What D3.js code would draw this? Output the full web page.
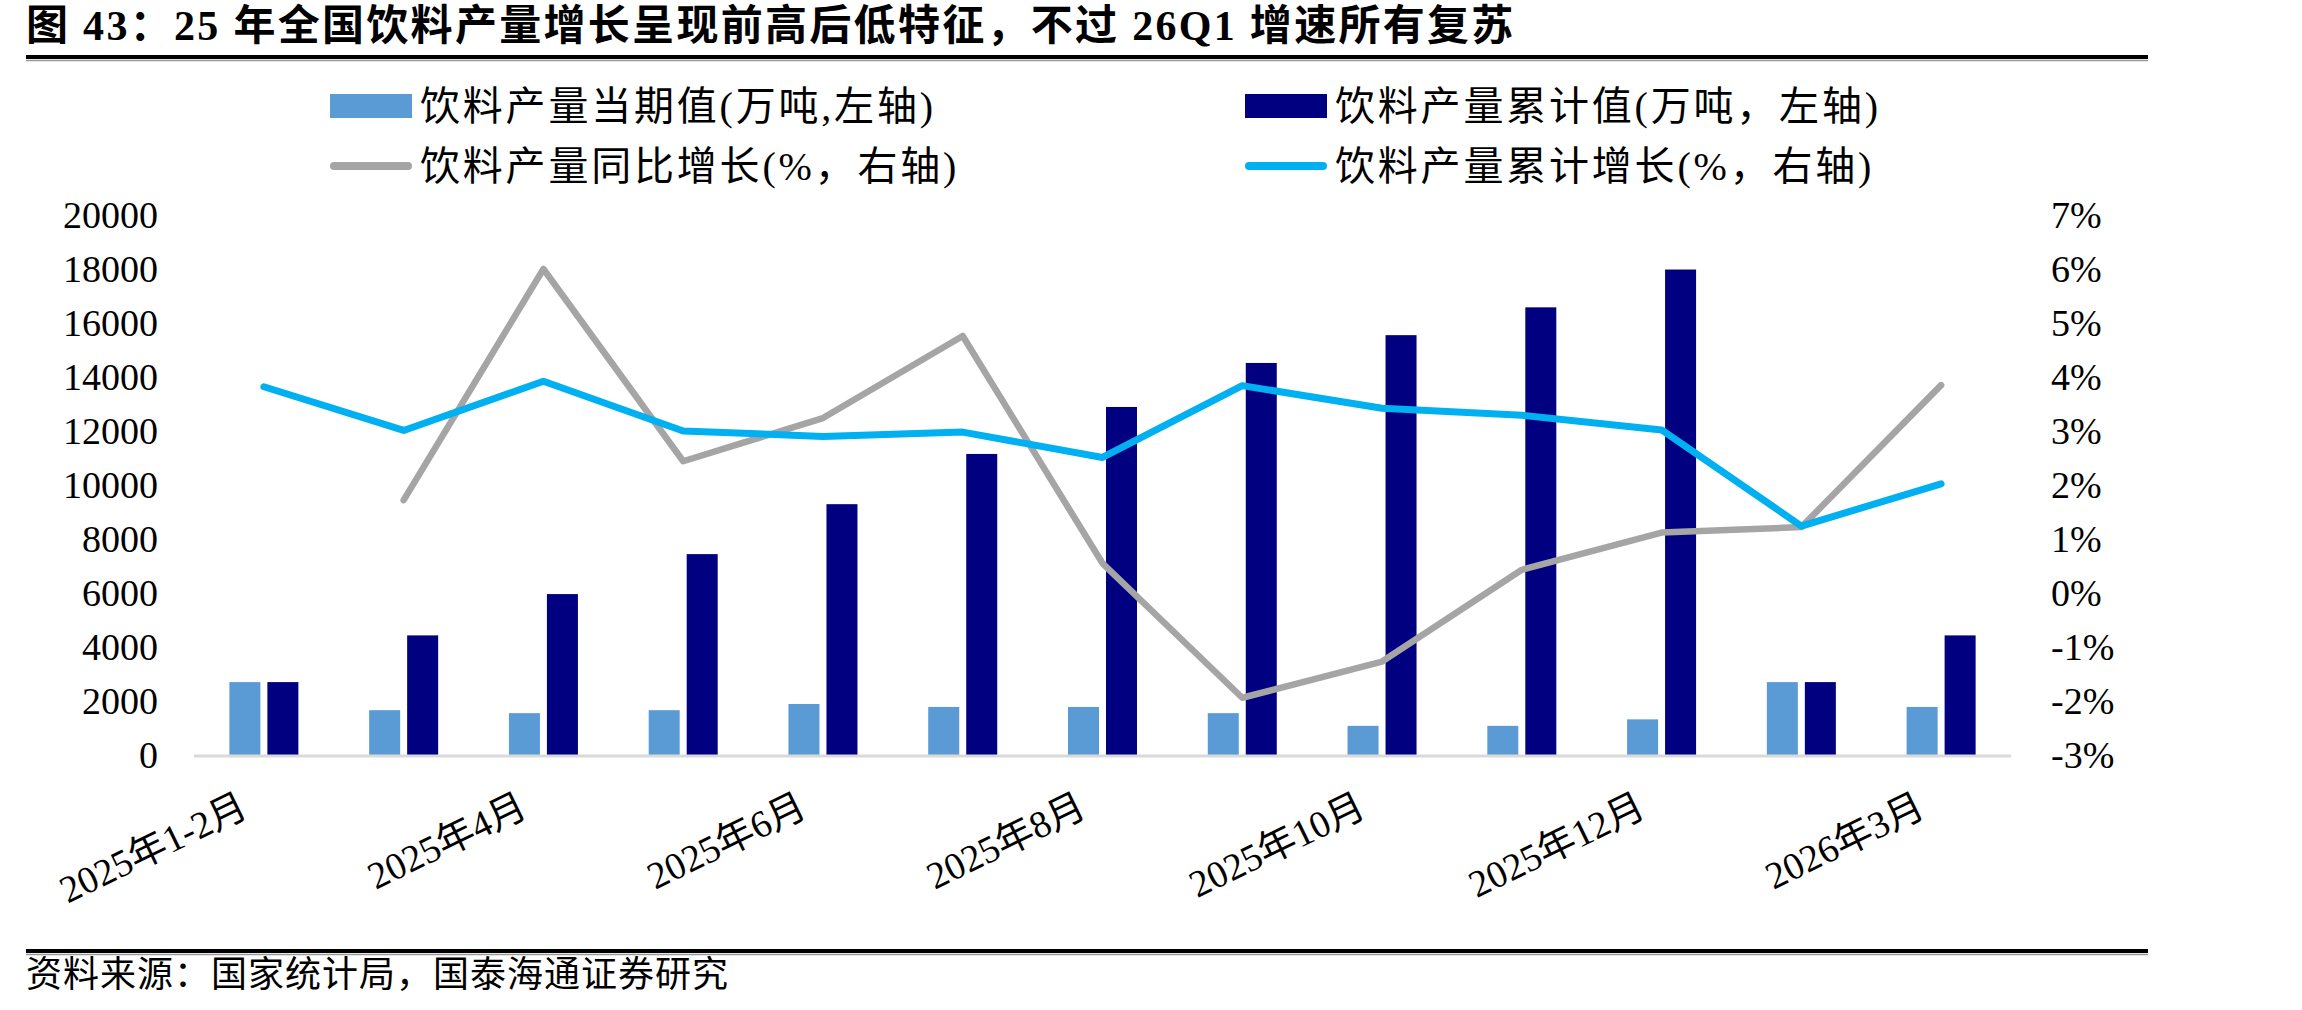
<!DOCTYPE html>
<html>
<head>
<meta charset="utf-8">
<script src="https://cdn.jsdelivr.net/npm/d3@7"></script>
<style>
    body { margin: 0; background: #fff; }
    text { font-family: "Liberation Serif", "Noto Sans CJK SC", serif; fill: #000; }
</style>
</head>
<body>
<svg id="chart" width="2302" height="1010"></svg>
<script>
// categories on the x axis
var categories = ["2025年1-2月", "2025年3月", "2025年4月", "2025年5月", "2025年6月", "2025年7月",
    "2025年8月", "2025年9月", "2025年10月", "2025年11月", "2025年12月", "2026年1-2月", "2026年3月"];
var tickLabels = ["2025年1-2月", "2025年4月", "2025年6月", "2025年8月", "2025年10月", "2025年12月", "2026年3月"];

// left axis, 万吨
var currentValue = [2700, 1660, 1550, 1660, 1890, 1780, 1780, 1550, 1080, 1080, 1320, 2700, 1780];
var cumulativeValue = [2700, 4430, 5960, 7440, 9290, 11150, 12890, 14520, 15550, 16580, 17980, 2700, 4430];

// right axis, %
var yoyGrowth = [null, 1.72, 6.0, 2.44, 3.24, 4.76, 0.55, -1.94, -1.27, 0.43, 1.12, 1.22, 3.85];
var cumGrowth = [3.82, 3.01, 3.92, 3.0, 2.9, 2.98, 2.51, 3.84, 3.42, 3.29, 3.02, 1.24, 2.02];

var leftTicks = [0, 2000, 4000, 6000, 8000, 10000, 12000, 14000, 16000, 18000, 20000];
var rightTicks = [-3, -2, -1, 0, 1, 2, 3, 4, 5, 6, 7];

var legendItems = [
    { label: "饮料产量当期值(万吨,左轴)", color: "#5B9BD5", type: "bar", col: 0, row: 0 },
    { label: "饮料产量累计值(万吨，左轴)", color: "#000080", type: "bar", col: 1, row: 0 },
    { label: "饮料产量同比增长(%，右轴)", color: "#A5A5A5", type: "line", col: 0, row: 1 },
    { label: "饮料产量累计增长(%，右轴)", color: "#00B0F0", type: "line", col: 1, row: 1 }
];

var svg = d3.select("#chart");

var plotLeft = 194, plotRight = 2011, plotTop = 215, plotBottom = 755;

var x = d3.scaleBand().domain(categories).range([plotLeft, plotRight]).padding(0);
var sub = d3.scaleBand().domain(["cur", "cum"]).range([0, 69]).paddingInner(0.184);
var yLeft = d3.scaleLinear().domain([0, 20000]).range([plotBottom, plotTop]);
var yRight = d3.scaleLinear().domain([-3, 7]).range([plotBottom, plotTop]);

// title + rules
svg.append("text")
    .attr("x", 26).attr("y", 40)
    .style("font-size", "42px").style("font-weight", "bold").style("letter-spacing", "2.3px")
    .text("图 43：25 年全国饮料产量增长呈现前高后低特征，不过 26Q1 增速所有复苏");

[57, 951].forEach(function(ry) {
    svg.append("line").attr("x1", 26).attr("x2", 2148).attr("y1", ry).attr("y2", ry)
        .attr("stroke", "#000").attr("stroke-width", 4);
    svg.append("line").attr("x1", 26).attr("x2", 2148).attr("y1", ry + 3.5).attr("y2", ry + 3.5)
        .attr("stroke", "#999").attr("stroke-width", 1.5);
});

svg.append("text")
    .attr("x", 26).attr("y", 987)
    .style("font-size", "36px").style("letter-spacing", "1px")
    .text("资料来源：国家统计局，国泰海通证券研究");

// legend
var legendX = [330, 1245], legendY = [106, 166];
var legend = svg.append("g").attr("class", "legend");
legendItems.forEach(function(d) {
    var lx = legendX[d.col], ly = legendY[d.row];
    if (d.type === "bar") {
        legend.append("rect").attr("x", lx).attr("y", ly - 12).attr("width", 82).attr("height", 24)
            .attr("fill", d.color);
    } else {
        legend.append("line").attr("x1", lx + 4).attr("x2", lx + 78).attr("y1", ly).attr("y2", ly)
            .attr("stroke", d.color).attr("stroke-width", 8).attr("stroke-linecap", "round");
    }
    legend.append("text").attr("x", lx + 90).attr("y", ly).attr("dy", "0.36em")
        .style("font-size", "40px").style("letter-spacing", "2.8px").text(d.label);
});

// axes
var axisL = svg.append("g")
    .attr("transform", "translate(" + plotLeft + ",0)")
    .call(d3.axisLeft(yLeft).tickValues(leftTicks).tickSize(0).tickPadding(36).tickFormat(d3.format("d")));
var axisR = svg.append("g")
    .attr("transform", "translate(" + plotRight + ",0)")
    .call(d3.axisRight(yRight).tickValues(rightTicks).tickSize(0).tickPadding(40).tickFormat(function(d) { return d + "%"; }));
[axisL, axisR].forEach(function(a) {
    a.select(".domain").remove();
    a.selectAll("text").style("font-size", "38px").style("font-family", "Liberation Serif");
});

var axisB = svg.append("g")
    .attr("transform", "translate(0," + plotBottom + ")")
    .call(d3.axisBottom(x).tickValues(tickLabels).tickSize(0));
axisB.select(".domain").remove();
axisB.selectAll("text")
    .attr("x", 0).attr("y", 0).attr("dy", 0)
    .attr("text-anchor", "end")
    .attr("transform", "translate(-14,60) rotate(-26)")
    .style("font-size", "38px");

// bars
var bars = svg.append("g").attr("class", "bars");
bars.selectAll("rect.cur")
    .data(categories)
    .enter().append("rect")
    .attr("class", "cur")
    .attr("x", function(d) { return x(d) + x.bandwidth() / 2 - 34.5 + sub("cur"); })
    .attr("width", sub.bandwidth())
    .attr("y", function(d, i) { return yLeft(currentValue[i]); })
    .attr("height", function(d, i) { return plotBottom - yLeft(currentValue[i]); })
    .attr("fill", "#5B9BD5");
bars.selectAll("rect.cum")
    .data(categories)
    .enter().append("rect")
    .attr("class", "cum")
    .attr("x", function(d) { return x(d) + x.bandwidth() / 2 - 34.5 + sub("cum"); })
    .attr("width", sub.bandwidth())
    .attr("y", function(d, i) { return yLeft(cumulativeValue[i]); })
    .attr("height", function(d, i) { return plotBottom - yLeft(cumulativeValue[i]); })
    .attr("fill", "#000080");

// baseline
svg.append("line").attr("x1", plotLeft).attr("x2", plotRight).attr("y1", plotBottom + 1).attr("y2", plotBottom + 1)
    .attr("stroke", "#D9D9D9").attr("stroke-width", 3);

// lines
var line = d3.line()
    .defined(function(d) { return d.v !== null; })
    .x(function(d) { return x(d.c) + x.bandwidth() / 2; })
    .y(function(d) { return yRight(d.v); });

function series(vals) {
    return categories.map(function(c, i) { return { c: c, v: vals[i] }; });
}

svg.append("path")
    .datum(series(yoyGrowth))
    .attr("d", line)
    .attr("fill", "none")
    .attr("stroke", "#A5A5A5")
    .attr("stroke-width", 6.5)
    .attr("stroke-linejoin", "round")
    .attr("stroke-linecap", "round");

svg.append("path")
    .datum(series(cumGrowth))
    .attr("d", line)
    .attr("fill", "none")
    .attr("stroke", "#00B0F0")
    .attr("stroke-width", 7)
    .attr("stroke-linejoin", "round")
    .attr("stroke-linecap", "round");
</script>
</body>
</html>
